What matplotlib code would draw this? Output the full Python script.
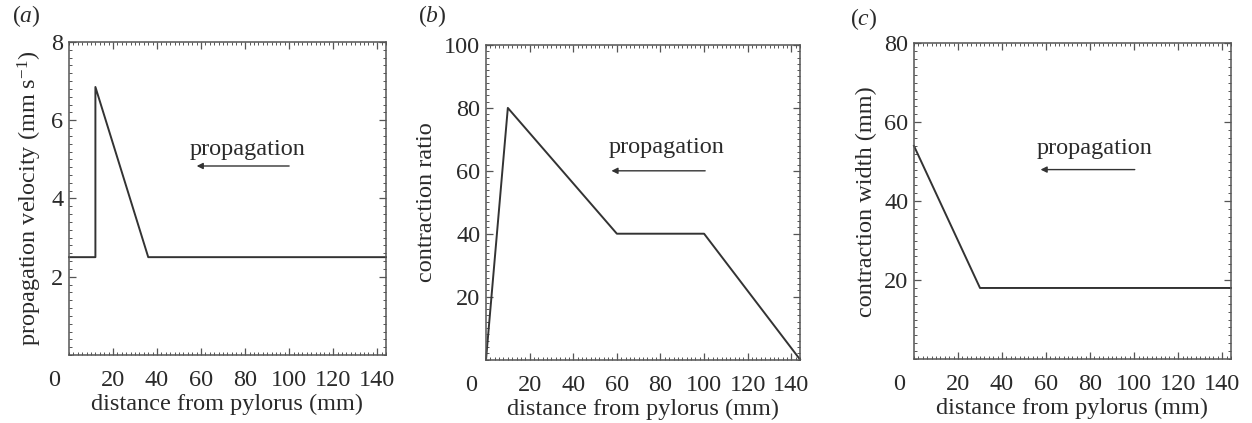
import matplotlib
matplotlib.use("Agg")
import matplotlib.pyplot as plt
from matplotlib.ticker import MultipleLocator
import matplotlib.transforms as mtransforms

plt.rcParams["font.family"] = "Liberation Serif"
plt.rcParams["mathtext.fontset"] = "custom"
plt.rcParams["mathtext.rm"] = "Liberation Serif"
plt.rcParams["mathtext.it"] = "Liberation Serif:italic"

# panel (a): propagation velocity
vel_x = [0, 12, 12, 36, 144]
vel_y = [2.5, 2.5, 6.85, 2.5, 2.5]
# panel (b): contraction ratio
ratio_x = [0, 10, 60, 100, 144]
ratio_y = [0, 80, 40, 40, 0]
# panel (c): contraction width
width_x = [0, 30, 144]
width_y = [54, 18, 18]

xticks = [20, 40, 60, 80, 100, 120, 140]
ylabels = ["propagation velocity (mm s$^{-1}$)", "contraction ratio", "contraction width (mm)"]
yticks = [[2, 4, 6, 8], [20, 40, 60, 80, 100], [20, 40, 60, 80]]
ylims = [8, 100, 80]
yminor = [0.2, 2, 2]
panel = ["(a)", "(b)", "(c)"]
# arrow: text position, arrow start/end x, arrow y
arrow_text = [(81, 5.25), (83, 67.3), (82, 53.4)]
arrow_x = [(100, 58), (100.5, 57.5), (100.3, 57.5)]
arrow_y = [4.83, 60, 48]

series = [(vel_x, vel_y), (ratio_x, ratio_y), (width_x, width_y)]
boxes = [
    [0.0551, 0.1608, 0.2532, 0.740],
    [0.3882, 0.1501, 0.2508, 0.7435],
    [0.7300, 0.1513, 0.2532, 0.7463],
]
label_pos = [(0.021, 0.962), (0.345, 0.962), (0.690, 0.955)]

fig = plt.figure(figsize=(12.52, 4.23), dpi=100)
ink = "#2a2a2a"
for i in range(3):
    ax = fig.add_axes(boxes[i])
    x, y = series[i]
    ax.plot(x, y, color="#333333", lw=1.4, clip_on=False)
    ax.set_xlim(0, 144)
    ax.set_ylim(0, ylims[i])
    ax.set_xticks(xticks)
    ax.set_yticks(yticks[i])
    ax.xaxis.set_minor_locator(MultipleLocator(2))
    ax.yaxis.set_minor_locator(MultipleLocator(yminor[i]))
    ax.tick_params(which="both", direction="in", top=True, right=True, color="#555555",
                   labelsize=17.5, labelcolor=ink)
    ax.tick_params(which="major", length=5, width=0.9)
    ax.tick_params(which="minor", length=2, width=0.7)
    ax.tick_params(axis="x", which="major", pad=11)
    ax.tick_params(axis="y", which="major", pad=4)
    for s in ax.spines.values():
        s.set_color("#555555")
        s.set_linewidth(1.1)
    ax.annotate("0", xy=(0, 0), xycoords="axes fraction", xytext=(-11, -11),
                textcoords="offset points", ha="center", va="top", fontsize=17.5, color=ink)
    ax.set_xlabel("distance from pylorus (mm)", fontsize=17.5, color=ink, labelpad=2)
    ax.set_ylabel(ylabels[i], fontsize=17.5, color=ink, labelpad=5)
    tx, ty = arrow_text[i]
    ax.text(tx, ty, "propagation", fontsize=17.5, ha="center", va="center", color=ink)
    ax.annotate("", xy=(arrow_x[i][1], arrow_y[i]), xytext=(arrow_x[i][0], arrow_y[i]),
                arrowprops=dict(arrowstyle="-|>", color="#333333", lw=1.0,
                                mutation_scale=9, shrinkA=0, shrinkB=0))
    letter = panel[i][1]
    fig.text(label_pos[i][0], label_pos[i][1], "($\\mathit{" + letter + "}$)",
             fontsize=17, ha="center", va="center", color=ink)

fig.savefig("out.png", dpi=100)
